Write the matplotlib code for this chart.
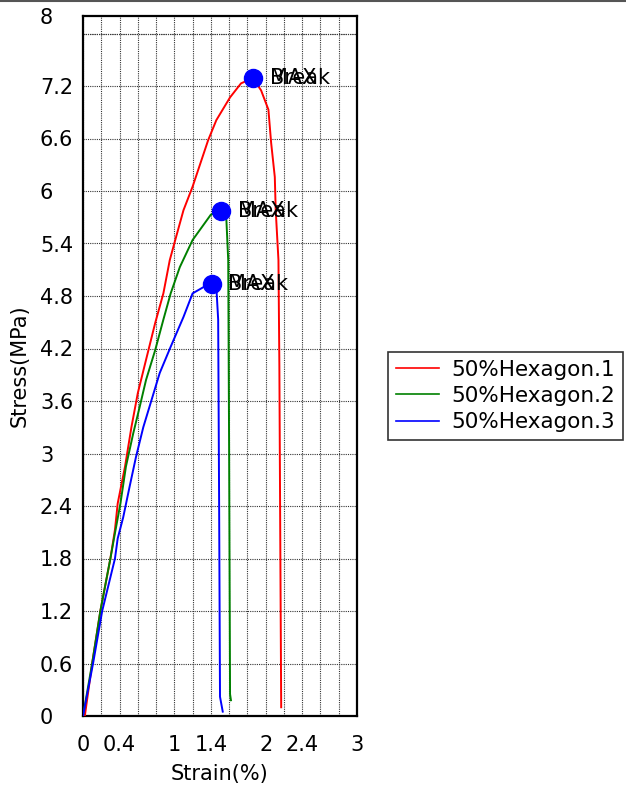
import matplotlib
matplotlib.use("Agg")
import matplotlib.pyplot as plt
from matplotlib.lines import Line2D
from matplotlib.ticker import FixedLocator
import numpy as np

plt.rcParams['font.family'] = ['DejaVu Sans']

# ---- data ----
red_x = [0, 0.02, 0.10, 0.19, 0.30, 0.35, 0.38, 0.46, 0.53, 0.60, 0.69, 0.79, 0.88,
         0.95, 1.01, 1.10, 1.20, 1.37, 1.46, 1.61, 1.73, 1.86, 1.95, 2.03, 2.06,
         2.10, 2.11, 2.14, 2.15, 2.16, 2.17]
red_y = [0, 0, 0.6, 1.2, 1.8, 2.13, 2.43, 2.85, 3.30, 3.69, 4.07, 4.49, 4.83,
         5.21, 5.44, 5.78, 6.05, 6.58, 6.81, 7.07, 7.23, 7.29, 7.15, 6.93, 6.55,
         6.16, 5.78, 5.21, 4.0, 2.0, 0.10]

green_x = [0, 0.10, 0.19, 0.30, 0.35, 0.41, 0.47, 0.55, 0.62, 0.69, 0.79, 0.88,
           0.96, 1.06, 1.20, 1.40, 1.50, 1.57, 1.59, 1.60, 1.61, 1.62]
green_y = [0, 0.6, 1.2, 1.8, 2.09, 2.43, 2.85, 3.23, 3.53, 3.84, 4.18, 4.53,
           4.83, 5.13, 5.44, 5.73, 5.77, 5.67, 5.21, 3.0, 0.25, 0.18]

blue_x = [0, 0.11, 0.21, 0.35, 0.38, 0.44, 0.51, 0.58, 0.66, 0.75, 0.84, 0.96,
          1.10, 1.20, 1.40, 1.46, 1.48, 1.49, 1.50, 1.53]
blue_y = [0, 0.6, 1.2, 1.8, 2.03, 2.27, 2.62, 2.96, 3.30, 3.61, 3.92, 4.22,
          4.56, 4.83, 4.95, 4.90, 4.53, 2.5, 0.22, 0.05]

series_names = ["50%Hexagon.1", "50%Hexagon.2", "50%Hexagon.3"]
series_colors = ["#ff0000", "#008000", "#0000ff"]

max_x = [1.86, 1.51, 1.41]
max_y = [7.29, 5.77, 4.94]
point_labels = ["MAX", "Break"]

x_ticks = [0, 0.4, 1, 1.4, 2, 2.4, 3]
x_ticklabels = ["0", "0.4", "1", "1.4", "2", "2.4", "3"]
y_ticks = [0, 0.6, 1.2, 1.8, 2.4, 3, 3.6, 4.2, 4.8, 5.4, 6, 6.6, 7.2, 8]
y_ticklabels = ["0", "0.6", "1.2", "1.8", "2.4", "3", "3.6", "4.2", "4.8",
                "5.4", "6", "6.6", "7.2", "8"]
x_grid = [round(0.2 * i, 1) for i in range(16)]
y_grid = [round(0.6 * i, 1) for i in range(14)]

# ---- figure ----
W, H = 626, 797
fig = plt.figure(figsize=(W / 100, H / 100), dpi=100)
ax = fig.add_axes([83 / W, 1 - 716 / H, (357 - 83) / W, (716 - 16) / H])

xs = [red_x, green_x, blue_x]
ys = [red_y, green_y, blue_y]
for x, y, c, n in zip(xs, ys, series_colors, series_names):
    ax.plot(x, y, color=c, lw=1.4, label=n, zorder=3)

for mx, my in zip(max_x, max_y):
    ax.plot([mx], [my], 'o', color='#0000ff', ms=13, zorder=4)
    for lab in point_labels:
        ax.annotate(lab, (mx, my), xytext=(12, 0), textcoords='offset points',
                    ha='left', va='center', fontsize=15, color='black', zorder=5)

ax.set_xlim(0, 3)
ax.set_ylim(0, 8)

ax.xaxis.remove_overlapping_locs = False
ax.yaxis.remove_overlapping_locs = False
ax.xaxis.set_major_locator(FixedLocator(x_ticks))
ax.set_xticklabels(x_ticklabels)
ax.yaxis.set_major_locator(FixedLocator(y_ticks))
ax.set_yticklabels(y_ticklabels)
ax.xaxis.set_minor_locator(FixedLocator(x_grid))
ax.yaxis.set_minor_locator(FixedLocator(y_grid + [7.8]))

ax.tick_params(axis='both', which='both', length=0, labelsize=15)
ax.tick_params(axis='y', pad=31)
ax.tick_params(axis='x', pad=14)
for t in ax.get_yticklabels():
    t.set_horizontalalignment('left')

ax.grid(False)
ax.grid(True, which='minor', color='#333333', linestyle=(0, (1, 1)), lw=0.8)

for s in ax.spines.values():
    s.set_linewidth(1.6)
    s.set_color('black')

ax.set_xlabel("Strain(%)", fontsize=15, labelpad=6)
ax.set_ylabel("Stress(MPa)", fontsize=15)
ax.yaxis.set_label_coords(-(83 - 30) / (357 - 83), 0.5)

leg = fig.legend(loc='upper left', bbox_to_anchor=(388 / W, 1 - 352 / H),
                 fontsize=15.5, frameon=True, fancybox=False, handlelength=2.0,
                 borderpad=0.35, labelspacing=0.3, handletextpad=0.6,
                 borderaxespad=0)
leg.get_frame().set_edgecolor('black')
leg.get_frame().set_linewidth(1.2)
for l in leg.get_lines():
    l.set_linewidth(1.2)

fig.add_artist(Line2D([0, 1], [1 - 1 / H, 1 - 1 / H], color='#555555', lw=1.5,
                      transform=fig.transFigure))

fig.savefig("out.png", dpi=100)
